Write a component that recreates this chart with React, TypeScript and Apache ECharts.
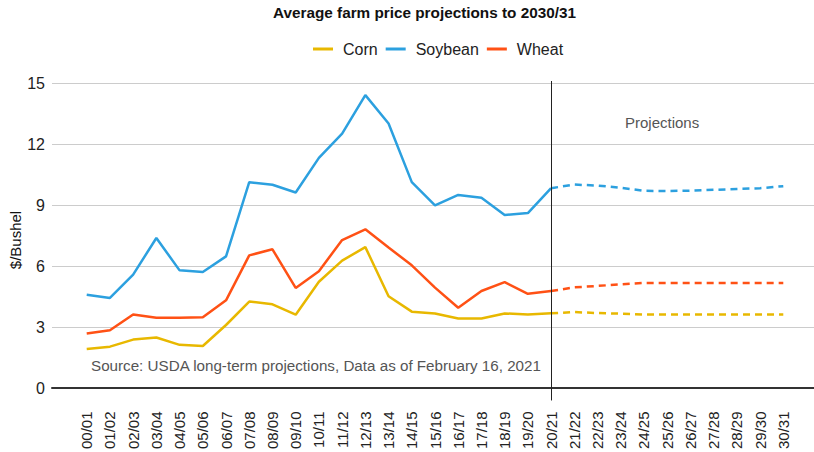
import React, { useEffect, useRef } from 'react';
import * as echarts from 'echarts';

const years = ['00/01','01/02','02/03','03/04','04/05','05/06','06/07','07/08','08/09','09/10','10/11','11/12','12/13','13/14','14/15','15/16','16/17','17/18','18/19','19/20','20/21','21/22','22/23','23/24','24/25','25/26','26/27','27/28','28/29','29/30','30/31'];

// Historical (00/01 .. 20/21)
const cornHist = [1.85,1.97,2.32,2.42,2.06,2.00,3.04,4.20,4.06,3.55,5.18,6.22,6.89,4.46,3.70,3.61,3.36,3.36,3.61,3.56,3.62];
const soyHist = [4.54,4.38,5.53,7.34,5.74,5.66,6.43,10.10,9.97,9.59,11.30,12.50,14.40,13.00,10.10,8.95,9.47,9.33,8.48,8.57,9.80];
const wheatHist = [2.62,2.78,3.56,3.40,3.40,3.42,4.26,6.48,6.78,4.87,5.70,7.24,7.77,6.87,5.99,4.89,3.89,4.72,5.16,4.58,4.72];

// Projections (20/21 .. 30/31)
const cornProj = [3.62,3.68,3.63,3.60,3.56,3.56,3.56,3.56,3.56,3.56,3.56];
const soyProj = [9.80,9.98,9.93,9.82,9.67,9.66,9.68,9.72,9.76,9.80,9.90];
const wheatProj = [4.72,4.90,4.97,5.05,5.12,5.12,5.12,5.12,5.12,5.12,5.12];

const yTicks = [0, 3, 6, 9, 12, 15];
const splitYear = '20/21';

const COLORS = { corn: '#E8B800', soy: '#2CA0DF', wheat: '#FF5115' };

const histData = (h: number[]) => years.map((_, i) => (i < h.length ? h[i] : '-'));
const projData = (p: number[]) => {
  const start = years.indexOf(splitYear);
  return years.map((_, i) => (i >= start && i - start < p.length ? p[i - start] : '-'));
};

export default function App() {
  const ref = useRef<HTMLDivElement>(null);
  useEffect(() => {
    if (!ref.current) return;
    const chart = echarts.init(ref.current, null, { renderer: 'svg' });
    const font = 'Arial, "Liberation Sans", sans-serif';
    const lineCommon = (name: string, color: string, data: any[], dashed: boolean) => ({
      name,
      type: 'line',
      xAxisIndex: 1,
      yAxisIndex: 1,
      data,
      showSymbol: false,
      symbol: 'none',
      color,
      lineStyle: { color, width: 2.5, type: dashed ? [7, 5] : 'solid' },
      z: 3,
    });
    chart.setOption({
      animation: false,
      textStyle: { fontFamily: font },
      title: {
        text: 'Average farm price projections to 2030/31',
        left: 273,
        top: 5,
        padding: 0,
        textStyle: { fontSize: 15.3, fontWeight: 'bold', color: '#111', fontFamily: font },
      },
      legend: {
        top: 41,
        left: 313,
        padding: 0,
        data: ['Corn', 'Soybean', 'Wheat'],
        icon: 'rect',
        itemWidth: 20,
        itemHeight: 3,
        itemGap: 8,
        textStyle: { fontSize: 16, color: '#222', fontFamily: font, padding: [0, 0, 0, 5] },
      },
      grid: [
        { left: 52, right: 0, top: 83, bottom: 64 },
        { left: 75.1, right: 19.1, top: 81, bottom: 50 },
      ],
      xAxis: [
        {
          type: 'value', gridIndex: 0, min: 0, max: 1,
          axisLine: { show: true, onZero: false, lineStyle: { color: '#333', width: 2 } },
          axisTick: { show: false }, axisLabel: { show: false }, splitLine: { show: false },
        },
        {
          type: 'category', gridIndex: 1, data: years, boundaryGap: true,
          axisLine: { show: false, onZero: false }, axisTick: { show: false },
          axisLabel: {
            rotate: 90, interval: 0, fontSize: 15, color: '#222', margin: 11, fontFamily: font,
            padding: [9, 0, 0, 0],
          },
          splitLine: { show: false },
        },
      ],
      yAxis: [
        {
          type: 'value', gridIndex: 0, min: yTicks[0], max: yTicks[yTicks.length - 1], interval: 3,
          axisLine: { show: false }, axisTick: { show: false },
          axisLabel: { fontSize: 16, color: '#222', margin: 7, fontFamily: font },
          splitLine: { show: true, lineStyle: { color: '#cccccc', width: 1 } },
        },
        {
          type: 'value', gridIndex: 1, min: -0.689, max: 15.098,
          show: false, splitLine: { show: false },
        },
      ],
      series: [
        lineCommon('Corn', COLORS.corn, histData(cornHist), false),
        lineCommon('Soybean', COLORS.soy, histData(soyHist), false),
        lineCommon('Wheat', COLORS.wheat, histData(wheatHist), false),
        lineCommon('Corn', COLORS.corn, projData(cornProj), true),
        lineCommon('Soybean', COLORS.soy, projData(soyProj), true),
        {
          ...lineCommon('Wheat', COLORS.wheat, projData(wheatProj), true),
          markLine: {
            silent: true,
            symbol: ['none', 'none'],
            label: { show: false },
            lineStyle: { color: '#222', width: 1, type: 'solid' },
            data: [{ xAxis: splitYear }],
          },
        },
      ],
      graphic: [
        {
          type: 'text', x: 15, y: 240, rotation: Math.PI / 2,
          style: { text: '$/Bushel', fontSize: 15, fill: '#111', fontFamily: font, align: 'center', verticalAlign: 'middle' },
        },
        {
          type: 'text', left: 625, top: 115,
          style: { text: 'Projections', fontSize: 15, fill: '#555', fontFamily: font },
        },
        {
          type: 'text', left: 91, top: 358,
          style: { text: 'Source: USDA long-term projections, Data as of February 16, 2021', fontSize: 15.2, fill: '#555', fontFamily: font },
        },
      ],
    });
    return () => chart.dispose();
  }, []);
  return <div ref={ref} style={{ position: 'absolute', left: 0, top: 0, width: 814, height: 452 }} />;
}
